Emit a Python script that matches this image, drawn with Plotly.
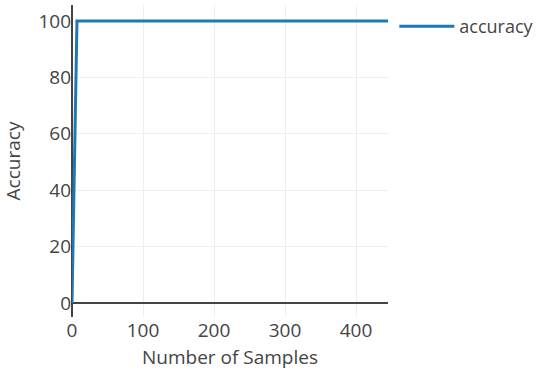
import plotly.graph_objects as go

samples = [0, 7, 445]
accuracy = [0, 100, 100]

fig = go.Figure()
fig.add_trace(go.Scatter(x=samples, y=accuracy, mode="lines", name="accuracy",
                         line=dict(color="#1f77b4", width=3)))
fig.update_layout(
    template="none",
    width=550, height=380,
    margin=dict(l=72, r=162, t=5, b=63),
    font=dict(family="Open Sans", size=19, color="#444"),
    showlegend=True,
    legend=dict(x=1.02, y=0.99, font=dict(size=18), itemwidth=55),
    paper_bgcolor="white", plot_bgcolor="white",
)
fig.update_xaxes(title=dict(text="Number of Samples", font=dict(size=19), standoff=8), range=[0, 445],
                 showgrid=True, gridcolor="#eee", zeroline=True, zerolinecolor="#444",
                 zerolinewidth=1.5, showline=False, ticks="", tickvals=[0, 100, 200, 300, 400],
                 automargin=False)
fig.update_yaxes(title=dict(text="Accuracy", font=dict(size=19), standoff=12), range=[-5, 105.7],
                 showgrid=True, gridcolor="#eee", zeroline=True, zerolinecolor="#444",
                 zerolinewidth=1.5, showline=False, ticks="", tickvals=[0, 20, 40, 60, 80, 100],
                 automargin=False)
fig.write_html("out.html", config={"displayModeBar": False},
               post_script="document.body.style.margin='0';")
